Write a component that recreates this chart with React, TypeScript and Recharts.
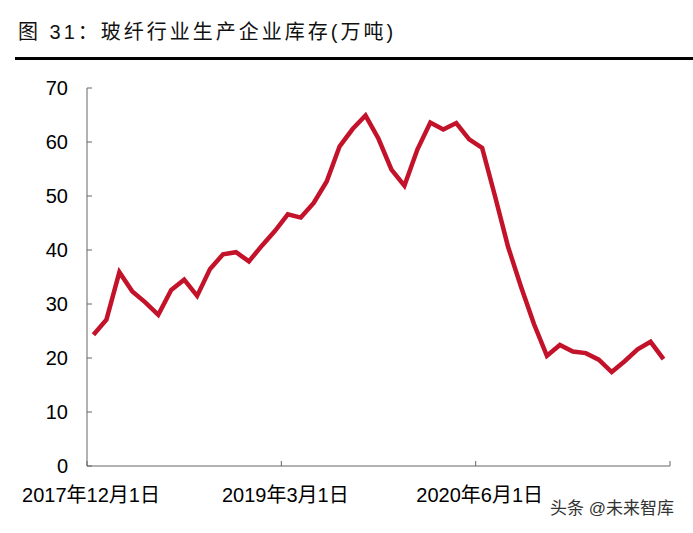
import React from 'react';
import { LineChart, Line, XAxis, YAxis } from 'recharts';

// monthly inventory, 2017-12 .. 2021-08 (万吨)
const inventory = [
  24.3, 27.1, 35.9, 32.3, 30.3, 28.0, 32.6, 34.5, 31.5, 36.5,
  39.2, 39.6, 37.9, 40.8, 43.5, 46.6, 46.0, 48.7, 52.7, 59.2,
  62.4, 64.9, 60.6, 54.9, 51.9, 58.6, 63.6, 62.3, 63.5, 60.5,
  58.9, 49.9, 40.6, 33.2, 26.3, 20.4, 22.4, 21.2, 20.9, 19.7,
  17.4, 19.4, 21.6, 23.0, 19.8,
];

const tickLabels = ['2017年12月1日', '2019年3月1日', '2020年6月1日', ''];
const tickPositions = [-0.5, 14.5, 29.5, 44.5];
const yTicks = [0, 10, 20, 30, 40, 50, 60, 70];

const chartData = inventory.map((value, idx) => ({ idx, value }));

const FONT = "'Liberation Sans', 'Noto Sans CJK SC', sans-serif";

function DateTick({ x, y, payload }: any) {
  const i = tickPositions.indexOf(payload.value);
  return (
    <text x={x + 4} y={y} dy="0.71em" textAnchor="middle" fontSize={20} fill="#000" fontFamily={FONT}>
      {tickLabels[i]}
    </text>
  );
}

export default function App() {
  return (
    <div style={{ position: 'absolute', left: 0, top: 0, width: 693, height: 533, background: '#fff', fontFamily: FONT }}>
      <div style={{ position: 'absolute', left: 18, top: 22, fontSize: 20, lineHeight: '20px', letterSpacing: 3, color: '#111', whiteSpace: 'nowrap' }}>
        图 31：玻纤行业生产企业库存(万吨)
      </div>
      <div style={{ position: 'absolute', left: 15, top: 57, width: 678, height: 3, background: '#000' }} />
      <LineChart width={693} height={533} data={chartData} margin={{ top: 88, right: 23, bottom: 0, left: 0 }}>
        <YAxis
          domain={[0, 70]}
          ticks={yTicks}
          width={87}
          tickSize={-5}
          tickMargin={24}
          axisLine={{ stroke: '#666' }}
          tickLine={{ stroke: '#666' }}
          tick={{ fontSize: 20, fill: '#000', fontFamily: FONT }}
        />
        <XAxis
          dataKey="idx"
          type="number"
          domain={[-0.5, 44.5]}
          ticks={tickPositions}
          height={67}
          tickSize={-5}
          tickMargin={27}
          axisLine={{ stroke: '#666' }}
          tickLine={{ stroke: '#666' }}
          tick={<DateTick />}
        />
        <Line
          type="linear"
          dataKey="value"
          stroke="#C3132B"
          strokeWidth={4.5}
          dot={false}
          isAnimationActive={false}
        />
      </LineChart>
      <div style={{ position: 'absolute', left: 550, top: 500, fontSize: 17, lineHeight: '17px', color: '#333', whiteSpace: 'nowrap' }}>
        头条 @未来智库
      </div>
    </div>
  );
}
